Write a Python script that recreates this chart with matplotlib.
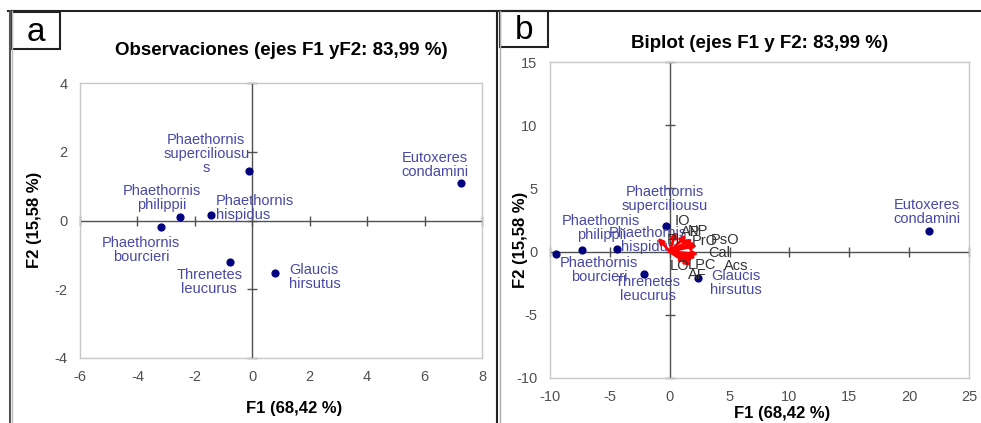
import matplotlib
matplotlib.use("Agg")
import matplotlib.pyplot as plt
from matplotlib.patches import Rectangle
from matplotlib.lines import Line2D

plt.rcParams['font.family'] = ['Liberation Sans', 'DejaVu Sans']

# --- datos ---
species = ["Phaethornis\nsuperciliousu\ns", "Eutoxeres\ncondamini", "Phaethornis\nphilippii",
           "Phaethornis\nhispidus", "Phaethornis\nbourcieri", "Threnetes\nleucurus",
           "Glaucis\nhirsutus"]
obs_f1 = [-0.1, 7.27, -2.52, -1.44, -3.18, -0.77, 0.80]
obs_f2 = [1.43, 1.10, 0.09, 0.15, -0.18, -1.22, -1.52]

species_b = ["Phaethornis\nsuperciliousu", "Eutoxeres\ncondamini", "Phaethornis\nphilippii",
             "Phaethornis\nhispidus", "Phaethornis\nbourcieri", "Threnetes\nleucurus",
             "Glaucis\nhirsutus"]
bi_f1 = [-0.3, 21.66, -7.3, -4.4, -9.5, -2.15, 2.36]
bi_f2 = [2.06, 1.60, 0.10, 0.20, -0.20, -1.75, -2.10]

variables = ["IO", "Pl", "AP", "NP", "PrO", "PsO", "Cal", "LO", "LPC", "Acs", "AF"]
var_f1 = [0.5, -1.0, 1.4, 1.9, 2.1, 2.3, 2.4, 1.4, 1.9, 2.2, 1.8]
var_f2 = [1.6, 1.1, 1.3, 1.0, 0.7, 0.5, -0.2, -0.9, -0.7, -0.5, -1.1]

# estilo de etiquetas (desplazamientos en pixeles)
off_a = [(-43, 17), (-26, 18), (-18, 19), (5, 7), (-20, -23), (-21, -20), (14, -4)]
ha_a = ["center", "center", "center", "left", "center", "center", "left"]
off_b = [(-1, 27), (-2, 19), (19, 22), (31, 9), (43, -16), (4, -15), (38, -5)]
off_var = [(7, 10), (16, -2), (4, 3), (5, 8), (10, 2), (28, 5), (21, 1), (-7, -3), (9, -5), (40, -8), (6, -9)]

DOT = "#00007f"
LAB = "#4848a8"
FRAME = "#c8c8c8"
AXL = "#505050"
TICKC = "#505050"


def setup_axes(ax, xlim, ylim, xticks, yticks):
    ax.set_xlim(xlim)
    ax.set_ylim(ylim)
    ax.set_xticks(xticks)
    ax.set_yticks(yticks)
    ax.set_xticklabels([str(t) for t in xticks])
    ax.set_yticklabels([str(t) for t in yticks])
    ax.tick_params(length=0, labelsize=10.5, labelcolor=TICKC, pad=9)
    for s in ax.spines.values():
        s.set_color(FRAME)
        s.set_linewidth(1.0)
    ax.axhline(0, color=AXL, lw=1.0, zorder=1)
    ax.axvline(0, color=AXL, lw=1.0, zorder=1)
    ax.plot(xticks, [0] * len(xticks), ls="none", marker="|", ms=7, color=AXL, zorder=1, clip_on=False)
    ax.plot([0] * len(yticks), yticks, ls="none", marker="_", ms=7, color=AXL, zorder=1, clip_on=False)


fig = plt.figure(figsize=(9.81, 4.23), dpi=100)

# panel a
ax1 = fig.add_axes([0.0815, 0.1537, 0.4098, 0.650])
setup_axes(ax1, (-6, 8), (-4, 4), list(range(-6, 9, 2)), list(range(-4, 5, 2)))
ax1.scatter(obs_f1, obs_f2, s=24, color=DOT, zorder=3)
for name, x, y, off, ha in zip(species, obs_f1, obs_f2, off_a, ha_a):
    ax1.annotate(name, (x, y), xytext=off, textcoords="offset pixels", ha=ha, va="center",
                 color=LAB, fontsize=10.5, linespacing=1.0, zorder=4)
ax1.set_title("Observaciones (ejes F1 yF2: 83,99 %)", fontsize=13.5, fontweight="bold", pad=20)

# panel b
ax2 = fig.add_axes([0.5607, 0.1064, 0.4271, 0.747])
setup_axes(ax2, (-10, 25), (-10, 15), list(range(-10, 26, 5)), list(range(-10, 16, 5)))
ax2.scatter(bi_f1, bi_f2, s=24, color=DOT, zorder=3)
for name, x, y, off in zip(species_b, bi_f1, bi_f2, off_b):
    ax2.annotate(name, (x, y), xytext=off, textcoords="offset pixels", ha="center", va="center",
                 color=LAB, fontsize=10.5, linespacing=1.0, zorder=4)
for name, x, y, off in zip(variables, var_f1, var_f2, off_var):
    ax2.annotate("", xy=(x, y), xytext=(0, 0),
                 arrowprops=dict(arrowstyle="-|>", color="red", lw=2.0, mutation_scale=8,
                                 shrinkA=0, shrinkB=0), zorder=5)
    ax2.annotate(name, (x, y), xytext=off, textcoords="offset pixels", ha="center", va="center",
                 color="#333333", fontsize=10.5, zorder=6)
ax2.set_title("Biplot (ejes F1 y F2: 83,99 %)", fontsize=13.5, fontweight="bold", pad=10)

# etiquetas de ejes
fig.text(294 / 981, 1 - 408 / 423, "F1 (68,42 %)", ha="center", va="center", fontsize=12, fontweight="bold")
fig.text(35 / 981, 1 - 220 / 423, "F2 (15,58 %)", ha="center", va="center", rotation=90,
         fontsize=12, fontweight="bold")
fig.text(782 / 981, 1 - 413 / 423, "F1 (68,42 %)", ha="center", va="center", fontsize=12, fontweight="bold")
fig.text(521 / 981, 1 - 240 / 423, "F2 (15,58 %)", ha="center", va="center", rotation=90,
         fontsize=12, fontweight="bold")

# marcos de paneles
W, H = 981, 423


def px_line(x0, y0, x1, y1, color="#222222", lw=1.5):
    fig.add_artist(Line2D([x0 / W, x1 / W], [1 - y0 / H, 1 - y1 / H], color=color, lw=lw))


px_line(8, 11, 981, 11)
px_line(10, 11, 10, 423, color="#555555", lw=1.5)
px_line(12, 11, 12, 423, color="#bbbbbb", lw=1.0)
px_line(497, 11, 497, 423, color="#222222", lw=1.5)
px_line(500, 11, 500, 423, color="#aaaaaa", lw=1.0)

for (x0, y0, x1, y1, letter) in [(12, 12, 60, 49, "a"), (500, 11, 548, 47, "b")]:
    fig.add_artist(Rectangle((x0 / W, 1 - y1 / H), (x1 - x0) / W, (y1 - y0) / H,
                             fill=False, ec="#222222", lw=1.5))
    fig.text((x0 + x1) / 2 / W, 1 - (y0 + y1) / 2 / H - 0.004, letter, ha="center", va="center", fontsize=24)

fig.savefig("out.png", dpi=100)
